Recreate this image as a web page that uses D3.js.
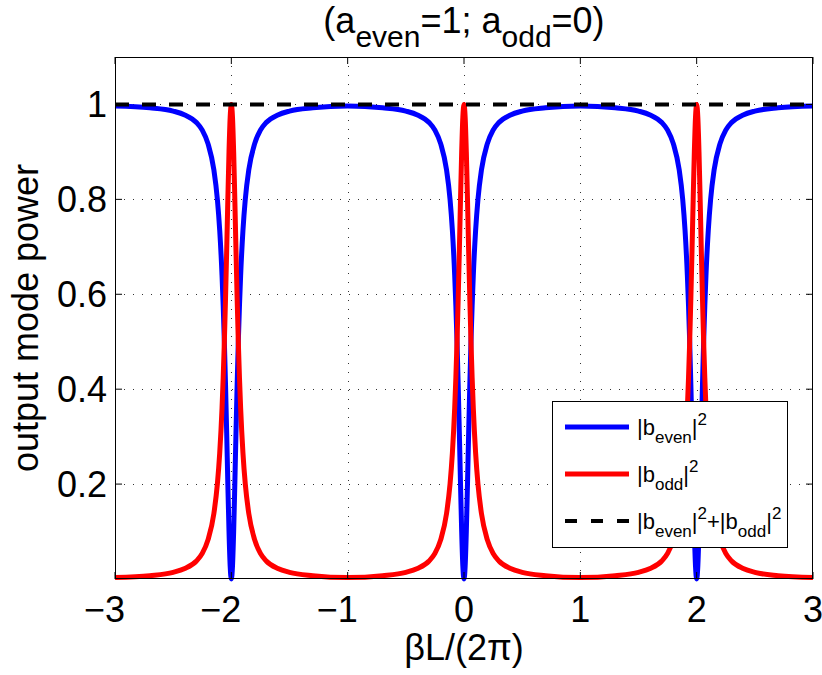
<!DOCTYPE html>
<html><head><meta charset="utf-8">
<script src="https://cdn.jsdelivr.net/npm/d3@7/dist/d3.min.js"></script>
<style>
body{margin:0;background:#fff}
text{font-family:"Liberation Sans",Arial,Helvetica,sans-serif;fill:#000}
</style>
</head><body>
<svg id="c" width="822" height="675"></svg>
<script>
// ---- data ----
const xValues = [
 -3,
 -2.7,-2.5,-2.4,-2.3,-2.25,-2.2,-2.15,-2.12,-2.1,-2.08,-2.07,-2.06,-2.05,-2.04,-2.03,-2.02,-2.01,-2,
 -1.99,-1.98,-1.97,-1.96,-1.95,-1.94,-1.93,-1.92,-1.9,-1.88,-1.85,-1.8,-1.75,-1.7,-1.6,-1.5,-1.3,-1,
 -0.7,-0.5,-0.4,-0.3,-0.25,-0.2,-0.15,-0.12,-0.1,-0.08,-0.07,-0.06,-0.05,-0.04,-0.03,-0.02,-0.01,0,
 0.01,0.02,0.03,0.04,0.05,0.06,0.07,0.08,0.1,0.12,0.15,0.2,0.25,0.3,0.4,0.5,0.7,1,
 1.3,1.5,1.6,1.7,1.75,1.8,1.85,1.88,1.9,1.92,1.93,1.94,1.95,1.96,1.97,1.98,1.99,2,
 2.01,2.02,2.03,2.04,2.05,2.06,2.07,2.08,2.1,2.12,2.15,2.2,2.25,2.3,2.4,2.5,2.7,3
];
const evenPower = [
 0.997,
 0.993,0.986,0.978,0.962,0.946,0.917,0.862,0.800,0.735,0.640,0.576,0.500,0.410,0.308,0.200,0.100,0.027,0.000,
 0.027,0.100,0.200,0.308,0.410,0.500,0.576,0.640,0.735,0.800,0.862,0.917,0.946,0.962,0.978,0.986,0.993,0.997,
 0.993,0.986,0.978,0.962,0.946,0.917,0.862,0.800,0.735,0.640,0.576,0.500,0.410,0.308,0.200,0.100,0.027,0.000,
 0.027,0.100,0.200,0.308,0.410,0.500,0.576,0.640,0.735,0.800,0.862,0.917,0.946,0.962,0.978,0.986,0.993,0.997,
 0.993,0.986,0.978,0.962,0.946,0.917,0.862,0.800,0.735,0.640,0.576,0.500,0.410,0.308,0.200,0.100,0.027,0.000,
 0.027,0.100,0.200,0.308,0.410,0.500,0.576,0.640,0.735,0.800,0.862,0.917,0.946,0.962,0.978,0.986,0.993,0.997
];
const oddPower = [
 0.003,
 0.007,0.014,0.022,0.038,0.054,0.083,0.138,0.200,0.265,0.360,0.424,0.500,0.590,0.692,0.800,0.900,0.973,1.000,
 0.973,0.900,0.800,0.692,0.590,0.500,0.424,0.360,0.265,0.200,0.138,0.083,0.054,0.038,0.022,0.014,0.007,0.003,
 0.007,0.014,0.022,0.038,0.054,0.083,0.138,0.200,0.265,0.360,0.424,0.500,0.590,0.692,0.800,0.900,0.973,1.000,
 0.973,0.900,0.800,0.692,0.590,0.500,0.424,0.360,0.265,0.200,0.138,0.083,0.054,0.038,0.022,0.014,0.007,0.003,
 0.007,0.014,0.022,0.038,0.054,0.083,0.138,0.200,0.265,0.360,0.424,0.500,0.590,0.692,0.800,0.900,0.973,1.000,
 0.973,0.900,0.800,0.692,0.590,0.500,0.424,0.360,0.265,0.200,0.138,0.083,0.054,0.038,0.022,0.014,0.007,0.003
];
const totalX = [-3, 3];
const totalPower = [1, 1];
const xTicks = [-3,-2,-1,0,1,2,3];
const xTickLabels = ["\u22123","\u22122","\u22121","0","1","2","3"];
const yTicks = [0.2,0.4,0.6,0.8,1];
const yTickLabels = ["0.2","0.4","0.6","0.8","1"];

// ---- layout ----
const L=115, R=813, T=57, B=579;
const FS=36;
const svg=d3.select("#c");
const x=d3.scaleLinear().domain([-3,3]).range([L,R]);
const y=d3.scaleLinear().domain([0,1.1]).range([B,T]);

svg.append("rect").attr("x",L).attr("y",T).attr("width",R-L).attr("height",B-T).attr("fill","#fff");

// grid
const grid=svg.append("g").attr("stroke","#333").attr("stroke-width",1).attr("stroke-dasharray","1,8");
grid.selectAll(".gx").data(xTicks.filter(d=>d>-3&&d<3)).join("line")
 .attr("x1",d=>Math.round(x(d))+0.5).attr("x2",d=>Math.round(x(d))+0.5).attr("y1",T).attr("y2",B);
grid.selectAll(".gy").data(yTicks).join("line")
 .attr("y1",d=>Math.round(y(d))+0.5).attr("y2",d=>Math.round(y(d))+0.5).attr("x1",L).attr("x2",R);

// curves
const mk=(xs)=>d3.line().x((d,i)=>x(xs[i])).y(d=>y(d)).curve(d3.curveMonotoneX);
svg.append("path").attr("d",mk(xValues)(evenPower)).attr("fill","none").attr("stroke","#0000ff").attr("stroke-width",5).attr("stroke-linejoin","round");
svg.append("path").attr("d",mk(xValues)(oddPower)).attr("fill","none").attr("stroke","#ff0000").attr("stroke-width",5).attr("stroke-linejoin","round");
svg.append("path").attr("d",mk(totalX)(totalPower)).attr("fill","none").attr("stroke","#000").attr("stroke-width",4).attr("stroke-dasharray","14,13");

// frame and ticks
const ax=svg.append("g").attr("stroke","#000").attr("stroke-width",1);
ax.append("rect").attr("x",L+0.5).attr("y",T+0.5).attr("width",R-L-1).attr("height",B-T-1).attr("fill","none");
const TL=7;
ax.selectAll(".tb").data(xTicks).join("line").attr("x1",d=>x(d)).attr("x2",d=>x(d)).attr("y1",B).attr("y2",B-TL);
ax.selectAll(".tt").data(xTicks).join("line").attr("x1",d=>x(d)).attr("x2",d=>x(d)).attr("y1",T).attr("y2",T+TL);
ax.selectAll(".tl").data(yTicks).join("line").attr("y1",d=>y(d)).attr("y2",d=>y(d)).attr("x1",L).attr("x2",L+TL);
ax.selectAll(".tr").data(yTicks).join("line").attr("y1",d=>y(d)).attr("y2",d=>y(d)).attr("x1",R).attr("x2",R-TL);

// x tick labels: digits centred on tick, minus hangs to the left
const xt=svg.append("g").attr("font-size",FS).attr("text-anchor","middle");
xt.selectAll("text").data(xTicks).join("text")
 .attr("x",d=>x(d)).attr("y",622).text((d,i)=>xTickLabels[i])
 .each(function(d,i){
   const lab=xTickLabels[i];
   if(lab.startsWith("\u2212")){
     const full=this.getComputedTextLength();
     const tmp=xt.append("text").text(lab.slice(1));
     const dig=tmp.node().getComputedTextLength(); tmp.remove();
     d3.select(this).attr("dx",-(full-dig)/2);
   }
 });
// y tick labels
svg.append("g").attr("font-size",FS).attr("text-anchor","end")
 .selectAll("text").data(yTicks).join("text")
 .attr("x",107).attr("y",d=>y(d)+13).text((d,i)=>yTickLabels[i]);

// axis labels
svg.append("text").attr("x",(L+R)/2).attr("y",660).attr("text-anchor","middle").attr("font-size",FS).text("\u03B2L/(2\u03C0)");
svg.append("text").attr("transform",`translate(38,${(T+B)/2}) rotate(-90)`).attr("text-anchor","middle").attr("font-size",FS).text("output mode power");

// title
const tt=svg.append("text").attr("x",(L+R)/2).attr("y",33).attr("text-anchor","middle").attr("font-size",FS);
tt.append("tspan").text("(a");
tt.append("tspan").attr("dy",14).attr("font-size",30).text("even");
tt.append("tspan").attr("dy",-14).text("=1; a");
tt.append("tspan").attr("dy",14).attr("font-size",30).text("odd");
tt.append("tspan").attr("dy",-14).text("=0)");

// legend
const lg=svg.append("g");
lg.append("rect").attr("x",552.5).attr("y",401.5).attr("width",235).attr("height",146).attr("fill","#fff").attr("stroke","#000").attr("stroke-width",1);
const rows=[
 {c:"#0000ff",w:5,dash:null,y:427},
 {c:"#ff0000",w:5,dash:null,y:474},
 {c:"#000",w:4,dash:"12,14",y:521}
];
rows.forEach(r=>{
 lg.append("line").attr("x1",565).attr("x2",629).attr("y1",r.y).attr("y2",r.y).attr("stroke",r.c).attr("stroke-width",r.w).attr("stroke-dasharray",r.dash);
});
const LF=22, SF=17;
function legText(yy,parts){
 const t=lg.append("text").attr("x",637).attr("y",yy+8).attr("font-size",LF);
 parts.forEach(p=>{
   const s=t.append("tspan").text(p.t);
   if(p.s) s.attr("font-size",SF);
   if(p.dy) s.attr("dy",p.dy);
 });
}
legText(427,[{t:"|b"},{t:"even",s:1,dy:8},{t:"|",dy:-8},{t:"2",s:1,dy:-10},{t:"",dy:10}]);
legText(474,[{t:"|b"},{t:"odd",s:1,dy:8},{t:"|",dy:-8},{t:"2",s:1,dy:-10},{t:"",dy:10}]);
legText(521,[{t:"|b"},{t:"even",s:1,dy:8},{t:"|",dy:-8},{t:"2",s:1,dy:-10},{t:"+|b",dy:10},{t:"odd",s:1,dy:8},{t:"|",dy:-8},{t:"2",s:1,dy:-10}]);
</script>
</body></html>
